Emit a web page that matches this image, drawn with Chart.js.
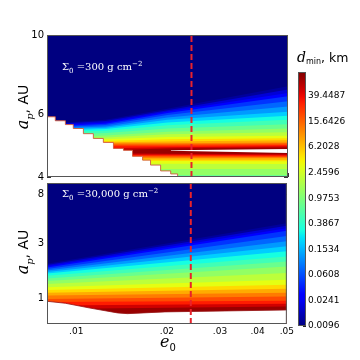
<!DOCTYPE html>
<html>
<head>
<meta charset="utf-8">
<script src="https://cdn.jsdelivr.net/npm/chart.js@4.4.1/dist/chart.umd.min.js"></script>
<style>
  body { margin: 0; background: #fff; }
  #wrap { position: relative; width: 360px; height: 360px; overflow: hidden; font-family: "DejaVu Sans", sans-serif; color: #000; }
  canvas { position: absolute; }
  .lbl { position: absolute; white-space: nowrap; line-height: 1; }
  .it { font-family: "DejaVu Serif", serif; font-style: italic; }
  .sig { font-family: "DejaVu Serif", serif; font-size: 10px; color: #fff; }
  .sig sub, .sig sup { font-size: 7px; }
  .ytitle { font-size: 14px; transform: translate(-50%, -50%) rotate(-90deg); }
  .ytitle .it { font-size: 16px; }
  .ytitle sub { font-size: 10px; }
</style>
</head>
<body>
<div id="wrap">
  <canvas id="top" width="300" height="190" style="left:0;top:0"></canvas>
  <canvas id="bot" width="300" height="190" style="left:0;top:170px"></canvas>
  <canvas id="cbar" width="72" height="280" style="left:288px;top:60px"></canvas>

  <div class="lbl ytitle" style="left:25px;top:107px"><span class="it">a<sub>p</sub></span>, AU</div>
  <div class="lbl ytitle" style="left:25px;top:252px"><span class="it">a<sub>p</sub></span>, AU</div>
  <div class="lbl sig" style="left:62px;top:61px">&Sigma;<sub>0</sub> =300 g cm<sup>&minus;2</sup></div>
  <div class="lbl sig" style="left:62px;top:188px">&Sigma;<sub>0</sub> =30,000 g cm<sup>&minus;2</sup></div>
  <div class="lbl" style="left:160px;top:334px"><span class="it" style="font-size:16px">e</span><sub style="font-size:10px">0</sub></div>
  <div class="lbl" style="left:297px;top:50px;font-size:12.5px"><span class="it" style="font-size:14px">d</span><sub style="font-size:8px;vertical-align:-2px">min</sub>, km</div>
</div>
<script>
// contour levels of d_min (km), two per colour-bar tick
const dLevels = [0.0096, 0.0152, 0.0241, 0.0383, 0.0608, 0.0966, 0.1534, 0.2436, 0.3867, 0.6141,
                 0.9753, 1.549, 2.4596, 3.906, 6.2028, 9.851, 15.6426, 24.84, 39.4487, 62.65];
const cbMin = 0.0096, cbMax = 94;
const cbTicks = [0.0096, 0.0241, 0.0608, 0.1534, 0.3867, 0.9753, 2.4596, 6.2028, 15.6426, 39.4487];

const xTicks = [0.009, 0.01, 0.02, 0.03, 0.04, 0.05];
const xTickLabels = ['', '.01', '.02', '.03', '.04', '.05'];
const dashE = 0.024;

// top panel, Sigma0 = 300: contour a_p (AU) at e0 = eTop, upper and lower side of the ridge
const eTop = [0.008, 0.0125, 0.02, 0.05];
const topUpper = [
  [5.64, 5.79, 6.21, 7.185], [5.61, 5.74, 6.155, 7.035], [5.57, 5.69, 6.10, 6.88], [5.535, 5.64, 6.05, 6.74],
  [5.50, 5.595, 5.965, 6.52], [5.47, 5.545, 5.87, 6.30], [5.43, 5.50, 5.79, 6.09], [5.39, 5.455, 5.69, 5.94],
  [5.335, 5.39, 5.585, 5.79], [5.24, 5.31, 5.47, 5.62], [5.16, 5.23, 5.36, 5.47], [5.11, 5.16, 5.27, 5.34],
  [5.06, 5.10, 5.175, 5.22], [5.01, 5.045, 5.10, 5.135], [4.975, 5.005, 5.03, 5.07], [4.94, 4.97, 4.97, 5.00],
  [4.90, 4.93, 4.93, 4.965], [4.855, 4.89, 4.89, 4.92], [4.81, 4.825, 4.85, 4.88], [4.75, 4.75, 4.81, 4.84]
];
const topLower = [
  [3.8, 3.8, 3.8, 3.8], [3.8, 3.8, 3.8, 3.8], [3.8, 3.8, 3.8, 3.8], [3.8, 3.8, 3.8, 3.8],
  [3.8, 3.8, 3.8, 3.8], [3.8, 3.8, 3.8, 3.8], [3.8, 3.8, 3.8, 3.8], [3.8, 3.8, 3.8, 3.8],
  [3.8, 3.8, 3.8, 3.8], [3.8, 3.8, 3.8, 3.8], [4.05, 4.05, 4.05, 4.05], [4.22, 4.22, 4.215, 4.21],
  [4.36, 4.36, 4.355, 4.35], [4.44, 4.44, 4.435, 4.43], [4.49, 4.485, 4.48, 4.47], [4.53, 4.53, 4.525, 4.52],
  [4.57, 4.565, 4.56, 4.55], [4.60, 4.59, 4.585, 4.57], [4.63, 4.62, 4.615, 4.60], [4.67, 4.66, 4.65, 4.63]
];
// blank gap inside the ridge
const gapE = [0.0205, 0.05];
const gapTopA = [4.75, 4.79];
const gapBotA = [4.74, 4.67];
// blank staircase (no solution) in the lower left
const stairE = [0.008, 0.00852, 0.0092, 0.00977, 0.01055, 0.01138, 0.01228, 0.01326,
                0.01431, 0.01533, 0.01655, 0.01758, 0.01898, 0.02049, 0.0216, 0.02244];
const stairA = [5.97, 5.90, 5.75, 5.61, 5.47, 5.29, 5.13, 5.00,
                4.81, 4.75, 4.57, 4.46, 4.32, 4.16, 4.08, 4.00];
const topYTicks = [4, 5, 6, 10];
const topYLabels = ['4', '', '6', '10'];

// bottom panel, Sigma0 = 30,000: contour a_p at e0 = 0.008 and e0 = 0.05
const eBot = [0.008, 0.05];
const botLeft = [2.00, 1.95, 1.90, 1.85, 1.80, 1.745, 1.69, 1.645, 1.575, 1.49,
                 1.415, 1.33, 1.25, 1.18, 1.12, 1.06, 0.99, 0.93, 0.87, 0.81];
const botRight = [4.49, 4.27, 4.06, 3.85, 3.48, 3.13, 2.83, 2.56, 2.31, 2.09,
                  1.89, 1.66, 1.45, 1.31, 1.21, 1.12, 1.04, 0.955, 0.90, 0.85];
const botEdgeE = [0.008, 0.0092, 0.0111, 0.0137, 0.0148, 0.0197, 0.05];
const botEdgeA = [0.944, 0.908, 0.825, 0.749, 0.738, 0.764, 0.794];
const botYTicks = [1, 3, 8];
const botYLabels = ['1', '3', '8'];

Chart.defaults.font.family = '"DejaVu Sans", sans-serif';
Chart.defaults.color = '#000';

function jet(t) {
  const seg = pts => {
    for (let i = 1; i < pts.length; i++) {
      if (t <= pts[i][0]) {
        const [x0, y0] = pts[i - 1], [x1, y1] = pts[i];
        return y0 + (y1 - y0) * (t - x0) / (x1 - x0);
      }
    }
    return pts[pts.length - 1][1];
  };
  const r = seg([[0, 0], [0.35, 0], [0.66, 1], [0.89, 1], [1, 0.5]]);
  const g = seg([[0, 0], [0.125, 0], [0.375, 1], [0.64, 1], [0.91, 0], [1, 0]]);
  const b = seg([[0, 0.5], [0.11, 1], [0.34, 1], [0.65, 0], [1, 0]]);
  return 'rgb(' + Math.round(r * 255) + ',' + Math.round(g * 255) + ',' + Math.round(b * 255) + ')';
}
function levelT(d) { return Math.log(d / cbMin) / Math.log(cbMax / cbMin); }
function bandColour(j) {
  const hi = j + 1 < dLevels.length ? dLevels[j + 1] : cbMax;
  return jet(levelT(Math.sqrt(dLevels[j] * hi)));
}
function pts(xs, ys) { return xs.map((x, i) => ({x: x, y: ys[i]})); }

const navyBg = {
  id: 'navyBg',
  beforeDatasetsDraw(chart) {
    const {ctx, chartArea: a} = chart;
    ctx.save();
    ctx.fillStyle = jet(0);
    ctx.fillRect(a.left, a.top, a.width, a.height);
    ctx.restore();
  }
};
const frame = {
  id: 'frame',
  afterDatasetsDraw(chart) {
    const {ctx, chartArea: a} = chart;
    ctx.save();
    ctx.strokeStyle = '#555';
    ctx.lineWidth = 1;
    ctx.strokeRect(a.left + 0.5, a.top + 0.5, a.width - 1, a.height - 1);
    ctx.restore();
  }
};

const noLine = {borderColor: 'transparent', borderWidth: 0, pointRadius: 0};

function xScale(showLabels, height) {
  return {
    type: 'logarithmic', min: 0.008, max: 0.05, z: 1,
    afterBuildTicks: s => { s.ticks = xTicks.map(v => ({value: v})); },
    afterFit: s => { s.height = height; },
    ticks: {display: showLabels, autoSkip: false, maxRotation: 0, padding: 6, font: {size: 9},
            callback: (v, i) => xTickLabels[i]},
    grid: {drawOnChartArea: false, tickLength: -4, color: '#333'},
    border: {display: false}
  };
}
function yScales(min, max, ticks, labels) {
  return {
    y: {
      type: 'logarithmic', min: min, max: max, z: 1,
      afterBuildTicks: s => { s.ticks = ticks.map(v => ({value: v})); },
      afterFit: s => { s.width = 47; },
      ticks: {autoSkip: false, padding: 7, font: {size: 10}, callback: (v, i) => labels[i]},
      grid: {drawOnChartArea: false, tickLength: -4, color: '#333'},
      border: {display: false}
    },
    yR: {
      type: 'logarithmic', position: 'right', min: min, max: max, z: 1,
      afterBuildTicks: s => { s.ticks = ticks.map(v => ({value: v})); },
      afterFit: s => { s.width = 0; },
      ticks: {display: false},
      grid: {drawOnChartArea: false, tickLength: -4, color: '#333'},
      border: {display: false}
    }
  };
}

// ---- top panel
const topSets = [];
dLevels.forEach((d, j) => {
  const idx = topSets.length;
  topSets.push(Object.assign({data: pts(eTop, topUpper[j]), fill: idx + 1,
    backgroundColor: bandColour(j), order: 100 - j}, noLine));
  topSets.push(Object.assign({data: pts(eTop, topLower[j]), fill: false, order: 100 - j}, noLine));
});
const gapIdx = topSets.length;
topSets.push(Object.assign({data: pts(gapE, gapTopA), fill: gapIdx + 1, backgroundColor: '#fff', order: 6}, noLine));
topSets.push(Object.assign({data: pts(gapE, gapBotA), fill: false, order: 6}, noLine));
topSets.push({data: pts(stairE, stairA), stepped: 'after', fill: 'start', backgroundColor: '#fff',
  borderColor: 'rgba(210,90,60,0.9)', borderWidth: 1, pointRadius: 0, order: 4});
topSets.push({data: [{x: dashE, y: 4}, {x: dashE, y: 10}], fill: false, borderColor: '#e8222b',
  borderWidth: 2, borderDash: [6, 3], pointRadius: 0, order: 0});

const topScales = yScales(4, 10, topYTicks, topYLabels);
topScales.x = xScale(false, 11);
new Chart(document.getElementById('top'), {
  type: 'line',
  data: {datasets: topSets},
  options: {
    responsive: false, animation: false, events: [],
    layout: {padding: {left: 0, top: 35, right: 12, bottom: 0}},
    plugins: {legend: {display: false}, tooltip: {enabled: false}},
    scales: topScales
  },
  plugins: [navyBg, frame]
});

// ---- bottom panel
const botSets = dLevels.map((d, j) => Object.assign({
  data: pts(eBot, [botLeft[j], botRight[j]]), fill: 'start',
  backgroundColor: bandColour(j), order: 100 - j}, noLine));
botSets.push({data: pts(botEdgeE, botEdgeA), fill: 'start', backgroundColor: '#fff',
  borderColor: 'rgba(150,20,20,0.8)', borderWidth: 1, pointRadius: 0, order: 4});
botSets.push({data: [{x: dashE, y: 0.6}, {x: dashE, y: 10}], fill: false, borderColor: '#e8222b',
  borderWidth: 2, borderDash: [6, 3], pointRadius: 0, order: 0});

const botScales = yScales(0.6, 10, botYTicks, botYLabels);
botScales.x = xScale(true, 36);
new Chart(document.getElementById('bot'), {
  type: 'line',
  data: {datasets: botSets},
  options: {
    responsive: false, animation: false, events: [],
    layout: {padding: {left: 0, top: 10, right: 12, bottom: 0}},
    plugins: {legend: {display: false}, tooltip: {enabled: false}},
    scales: botScales
  },
  plugins: [navyBg, frame]
});

// ---- colour bar
new Chart(document.getElementById('cbar'), {
  type: 'bar',
  data: {
    labels: [''],
    datasets: [{
      data: [[cbMin, cbMax]],
      backgroundColor: c => {
        const a = c.chart.chartArea;
        if (!a) return jet(0.5);
        const g = c.chart.ctx.createLinearGradient(0, a.bottom, 0, a.top);
        for (let i = 0; i <= 40; i++) g.addColorStop(i / 40, jet(i / 40));
        return g;
      },
      barPercentage: 1, categoryPercentage: 1, borderWidth: 0
    }]
  },
  options: {
    responsive: false, animation: false, events: [],
    layout: {padding: {left: 10, top: 12, right: 0, bottom: 14}},
    plugins: {legend: {display: false}, tooltip: {enabled: false}},
    scales: {
      x: {display: false},
      y: {
        type: 'logarithmic', position: 'right', min: cbMin, max: cbMax, z: 1,
        afterBuildTicks: s => { s.ticks = cbTicks.map(v => ({value: v})); },
        afterFit: s => { s.width = 54; },
        ticks: {autoSkip: false, padding: 5, font: {size: 9}, callback: (v, i) => cbTicks[i].toFixed(4)},
        grid: {drawOnChartArea: false, tickLength: -3, color: '#222'},
        border: {display: false}
      }
    }
  },
  plugins: [frame]
});
</script>
</body>
</html>
